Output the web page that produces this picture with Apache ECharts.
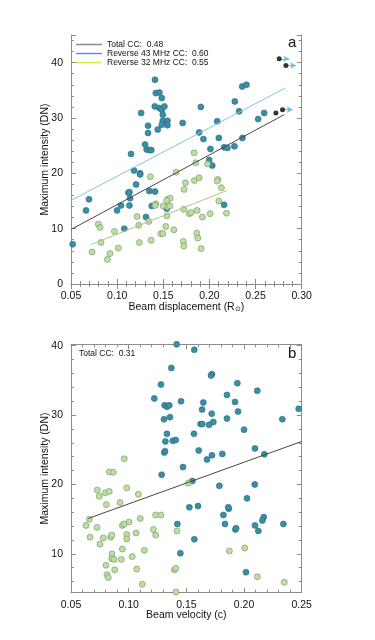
<!DOCTYPE html>
<html>
<head>
<meta charset="utf-8">
<script src="https://cdn.jsdelivr.net/npm/echarts@6/dist/echarts.min.js"></script>
<style>
  html, body { margin: 0; padding: 0; background: #fff; }
  #main { width: 375px; height: 640px; }
</style>
</head>
<body>
<div id="main"></div>
<script>
// panel a: beam displacement (R_sun) vs maximum intensity (DN)
var tealA = [
  [0.141, 36.9], [0.1419, 34.5], [0.1458, 34.6], [0.1484, 33.6], [0.126, 30.9], [0.1408, 32.1],
  [0.1458, 31.8], [0.1484, 31.5], [0.1512, 32.1], [0.1495, 30.6], [0.1495, 29.5], [0.1484, 28.8],
  [0.1545, 29.5], [0.1545, 28.7], [0.144, 27.9], [0.1335, 28.6], [0.1335, 27.3], [0.1303, 25.2],
  [0.132, 24.3], [0.135, 24.2], [0.137, 24.2], [0.115, 23.5], [0.171, 29.1], [0.1907, 32.0],
  [0.1888, 27.4], [0.1935, 26.2], [0.2011, 24.4], [0.1997, 22.4], [0.203, 21.4], [0.2084, 29.4],
  [0.2102, 26.4], [0.216, 24.7], [0.2195, 24.6], [0.2275, 33.0], [0.2322, 31.2], [0.2355, 35.7],
  [0.2401, 36.0], [0.2358, 26.4], [0.2271, 24.9], [0.2528, 29.8], [0.2593, 30.9],
  [0.1183, 20.5], [0.1249, 20.0], [0.1249, 19.8], [0.1205, 18.0], [0.1122, 16.5], [0.1133, 16.6],
  [0.114, 15.5], [0.1133, 14.2], [0.1042, 14.2], [0.0999, 13.3], [0.0695, 15.3], [0.0663, 13.3],
  [0.0518, 7.2], [0.1078, 10.0], [0.1349, 16.8], [0.1411, 16.7], [0.1375, 14.1], [0.1313, 12.1],
  [0.1538, 13.6], [0.2159, 14.3]
];
var greenA = [
  [0.1834, 23.7], [0.1852, 21.9], [0.198, 21.7], [0.1639, 20.2], [0.136, 19.4], [0.174, 18.3],
  [0.1837, 18.7], [0.1888, 19.2], [0.2091, 18.9], [0.2083, 18.6], [0.1726, 17.1], [0.213, 17.4],
  [0.1549, 15.3], [0.1574, 15.5], [0.1419, 14.5], [0.1411, 14.2], [0.1538, 15.1], [0.150, 14.1],
  [0.1549, 13.9], [0.1571, 14.1], [0.1722, 13.5], [0.1783, 12.7], [0.1801, 12.9], [0.1867, 13.3],
  [0.1924, 12.1], [0.2008, 12.7], [0.2102, 15.0], [0.2184, 12.8], [0.1538, 12.3], [0.1216, 12.2],
  [0.1234, 10.6], [0.1343, 11.3], [0.0796, 10.8], [0.0815, 10.2], [0.097, 9.5], [0.0728, 5.8],
  [0.0825, 7.5], [0.0923, 5.5], [0.0894, 4.45], [0.1013, 6.5], [0.1241, 7.5], [0.1368, 7.9],
  [0.1473, 9.1], [0.1495, 9.1], [0.1527, 10.4], [0.1614, 9.8], [0.1718, 7.7], [0.1722, 6.85],
  [0.1863, 9.2], [0.1874, 8.3], [0.191, 6.4]
];
var blackA = [[0.2756, 40.7], [0.2829, 39.5], [0.272, 30.9], [0.2792, 31.5]];
var arrowIdxA = [0, 1, 3];

// fitted lines, end points
var fitTotalA = [[0.05, 9.85], [0.281, 30.6]];
var fit43A = [[0.05, 15.1], [0.282, 35.4]];
var fit32A = [[0.072, 7.15], [0.219, 16.9]];
var ccNames = ["Total CC:  0.48", "Reverse 43 MHz CC:  0.60", "Reverse 32 MHz CC:  0.55"];

// panel b: beam velocity (c) vs maximum intensity (DN)
var tealB = [
  [0.1416, 40.2], [0.1569, 39.4], [0.137, 36.8], [0.1722, 35.9], [0.1714, 35.7], [0.128, 34.4],
  [0.1942, 34.6], [0.2115, 33.5], [0.1222, 32.4], [0.1454, 32.0], [0.1647, 31.8], [0.1852, 32.9],
  [0.1922, 31.9], [0.1312, 31.4], [0.1332, 31.2], [0.1352, 31.4], [0.1636, 30.8], [0.172, 30.2],
  [0.1948, 30.5], [0.2474, 30.9], [0.1306, 29.4], [0.1358, 29.7], [0.1734, 29.0], [0.1852, 29.5],
  [0.2332, 29.4], [0.1624, 28.7], [0.1638, 28.7], [0.1697, 28.6], [0.2, 27.9], [0.1332, 27.3],
  [0.1566, 27.3], [0.1318, 26.2], [0.1382, 26.3], [0.1408, 26.4], [0.1309, 24.6], [0.1315, 24.8],
  [0.1607, 24.9], [0.1722, 24.2], [0.1812, 24.4], [0.2095, 25.2], [0.2176, 24.35], [0.1679, 23.6],
  [0.1471, 22.5], [0.1286, 21.4], [0.1552, 20.5], [0.1786, 19.8], [0.2093, 20.0], [0.1526, 16.7],
  [0.1601, 16.9], [0.1821, 15.6], [0.1867, 16.5], [0.1864, 16.7], [0.2026, 18.0], [0.2171, 15.3],
  [0.2159, 14.8], [0.2095, 14.1], [0.2124, 13.3], [0.1925, 13.5], [0.1931, 13.7], [0.1835, 14.3],
  [0.1422, 14.3], [0.1569, 12.1], [0.1448, 10.1], [0.2017, 7.35], [0.2341, 14.3]
];
var greenB = [
  [0.0962, 23.7], [0.0832, 21.8], [0.0867, 21.75], [0.1517, 20.2], [0.0728, 19.2], [0.0797, 18.8],
  [0.0832, 19.0], [0.0745, 18.3], [0.0983, 19.5], [0.1084, 18.6], [0.0806, 17.1], [0.0925, 17.4],
  [0.1234, 15.6], [0.128, 15.6], [0.1101, 15.1], [0.063, 14.1], [0.066, 15.0], [0.0725, 13.8],
  [0.0665, 12.4], [0.078, 12.3], [0.0844, 12.4], [0.0853, 12.7], [0.0945, 14.1], [0.096, 14.3],
  [0.1003, 14.6], [0.0983, 12.8], [0.0983, 12.15], [0.1064, 13.0], [0.1214, 13.5], [0.1234, 12.7],
  [0.1419, 13.3], [0.0751, 11.4], [0.0855, 10.0], [0.0853, 9.3], [0.0873, 9.2], [0.0945, 10.7],
  [0.0936, 9.2], [0.1136, 10.5], [0.1031, 9.6], [0.0803, 8.35], [0.0879, 7.7], [0.0812, 7.0],
  [0.0823, 6.6], [0.107, 7.8], [0.1396, 7.7], [0.1408, 7.9], [0.1118, 5.6], [0.141, 4.5],
  [0.1873, 10.4], [0.2006, 10.85], [0.2115, 6.7], [0.2349, 5.9]
];
var fitTotalB = [[0.065, 15.1], [0.25, 26.2]];

var xTicksA = [0.05, 0.30];
var yTicksA = [0, 45];
var xTicksB = [0.05, 0.25];
var yTicksB = [4.4, 40.2];

var font = "'Liberation Sans', Arial, sans-serif";
var axisGray = "#8c8c8c";

function axis(kind, grid, pos, range, main, name) {
  var a = {
    type: "value",
    gridIndex: grid,
    position: pos,
    min: range[0],
    max: range[1],
    axisLine: { show: true, lineStyle: { color: axisGray, width: 1 } },
    axisTick: { show: true, inside: true, length: 5, lineStyle: { color: axisGray } },
    minorTick: { show: true, splitNumber: 5, length: 3, lineStyle: { color: axisGray } },
    splitLine: { show: false },
    axisLabel: { show: main, color: "#111", fontSize: 10.5, fontFamily: font }
  };
  if (kind == "x") {
    a.interval = 0.05;
    a.axisLabel.margin = 7;
    a.axisLabel.formatter = function (v) { return v.toFixed(2); };
  } else {
    a.minInterval = 10;
    a.maxInterval = 10;
    a.axisLabel.margin = 8;
    a.axisLabel.formatter = function (v) { return Math.abs(v % 10) < 1e-6 ? String(v) : ""; };
  }
  if (name) {
    a.name = name;
    a.nameLocation = "middle";
    a.nameMoveOverlap = false;
    a.nameTextStyle = {
      color: "#111", fontSize: 10.5, fontFamily: font,
      rich: { s: { fontSize: 6.5, fontFamily: font, color: "#111", padding: [5, 0, 0, 0] } }
    };
    a.nameGap = kind == "x" ? 17 : 20;
  }
  return a;
}

function dots(data, x, y, color, border, size) {
  return {
    type: "scatter", xAxisIndex: x, yAxisIndex: y, data: data, symbolSize: size || 6,
    itemStyle: { color: color, borderColor: border, borderWidth: 0.6, opacity: 1 },
    z: 3
  };
}

function fit(name, data, x, y, color) {
  return {
    type: "line", name: name, xAxisIndex: x, yAxisIndex: y, data: data,
    showSymbol: false, lineStyle: { color: color, width: 1 }, itemStyle: { color: color },
    z: 4
  };
}

var arrowLen = 0.0095;
var arrowLines = arrowIdxA.map(function (i) {
  var p = blackA[i];
  return [{ coord: [p[0] + 0.0015, p[1]] }, { coord: [p[0] + 0.0015 + arrowLen, p[1]] }];
});

var myChart = echarts.init(document.getElementById("main"));
myChart.setOption({
  animation: false,
  textStyle: { fontFamily: font },
  grid: [
    { left: 71, right: 73.3, top: 35, height: 249 },
    { left: 71, right: 73.3, top: 344.3, height: 248.4 }
  ],
  xAxis: [
    axis("x", 0, "bottom", xTicksA, true, "Beam displacement (R{s|⊙})"),
    axis("x", 0, "top", xTicksA, false),
    axis("x", 1, "bottom", xTicksB, true, "Beam velocity (c)"),
    axis("x", 1, "top", xTicksB, false)
  ],
  yAxis: [
    axis("y", 0, "left", yTicksA, true, "Maximum intensity (DN)"),
    axis("y", 0, "right", yTicksA, false),
    axis("y", 1, "left", yTicksB, true, "Maximum intensity (DN)"),
    axis("y", 1, "right", yTicksB, false)
  ],
  title: [
    { text: "a", left: 288, top: 35, padding: 0, textStyle: { fontSize: 15, fontWeight: "normal", color: "#111", fontFamily: font } },
    { text: "b", left: 288, top: 346, padding: 0, textStyle: { fontSize: 15, fontWeight: "normal", color: "#111", fontFamily: font } },
    { text: "Total CC:  0.31", left: 79, top: 349, padding: 0, textStyle: { fontSize: 8.5, fontWeight: "normal", color: "#111", fontFamily: font } }
  ],
  legend: {
    orient: "vertical", left: 76, top: 40, padding: 0, itemGap: 0,
    itemWidth: 26, itemHeight: 1.5, icon: "rect",
    textStyle: { fontSize: 8.5, lineHeight: 7.3, color: "#111", fontFamily: font, padding: 0 },
    data: [
      { name: ccNames[0], itemStyle: { color: "#8a8a8a" } },
      { name: ccNames[1], itemStyle: { color: "#3aa0e6" } },
      { name: ccNames[2], itemStyle: { color: "#ccef3c" } }
    ]
  },
  series: [
    dots(tealA, 0, 0, "#3a8ea6", "#2a6a7e"),
    dots(greenA, 0, 0, "#bde0a0", "#6f8f66"),
    {
      type: "scatter", xAxisIndex: 0, yAxisIndex: 0, data: blackA, symbolSize: 5,
      itemStyle: { color: "#000" }, z: 5,
      markLine: {
        silent: true, symbol: ["none", "arrow"], symbolSize: [5, 6],
        lineStyle: { color: "#6fc0dc", width: 1, type: "solid" },
        label: { show: false },
        data: arrowLines
      }
    },
    fit(ccNames[0], fitTotalA, 0, 0, "#454545"),
    fit(ccNames[1], fit43A, 0, 0, "#80c5de"),
    fit(ccNames[2], fit32A, 0, 0, "#b3c28a"),
    dots(tealB, 2, 2, "#3a8ea6", "#2a6a7e"),
    dots(greenB, 2, 2, "#bde0a0", "#6f8f66"),
    fit("Total B", fitTotalB, 2, 2, "#454545")
  ]
});
</script>
</body>
</html>
